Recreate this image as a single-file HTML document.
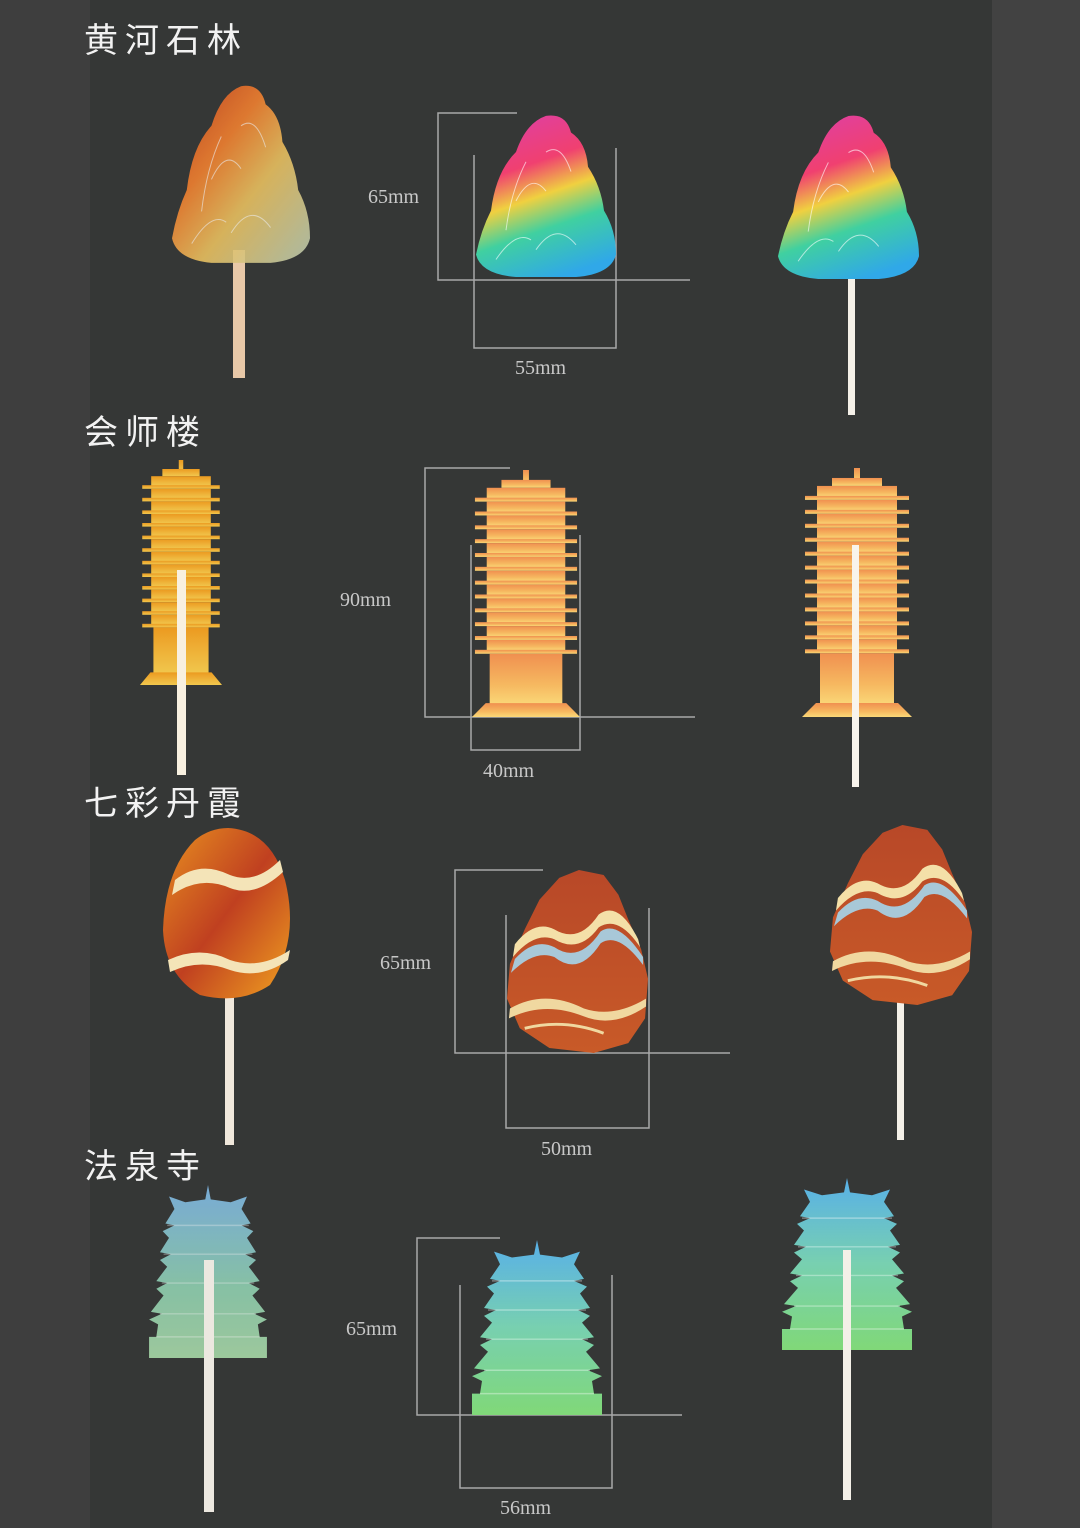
<!DOCTYPE html>
<html><head><meta charset="utf-8"><style>
html,body{margin:0;padding:0;background:#353736;}
svg{display:block}
.t{font-family:"Liberation Sans","Noto Sans CJK SC",sans-serif;font-size:34px;fill:#f2f2f2;letter-spacing:7px}
.d{font-family:"Liberation Serif",serif;font-size:20px;fill:#c8c8c8}
.ln{stroke:#a8a8a8;stroke-width:1.5;fill:none}
</style></head><body>
<svg width="1080" height="1528" viewBox="0 0 1080 1528" xmlns="http://www.w3.org/2000/svg">
<defs>
<linearGradient id="rb" x1="0.3" y1="0" x2="0.6" y2="1">
<stop offset="0" stop-color="#e040a0"/><stop offset="0.3" stop-color="#f04070"/><stop offset="0.5" stop-color="#f0d040"/><stop offset="0.7" stop-color="#40d0a0"/><stop offset="1" stop-color="#30a8e8"/></linearGradient>
<linearGradient id="am" x1="0" y1="0" x2="1" y2="1">
<stop offset="0" stop-color="#c84020"/><stop offset="0.35" stop-color="#f08030"/><stop offset="0.6" stop-color="#e8c060"/><stop offset="1" stop-color="#b8c8b0"/></linearGradient>
<linearGradient id="og" x1="0" y1="0" x2="0" y2="1">
<stop offset="0" stop-color="#f09050"/><stop offset="0.6" stop-color="#f6b860"/><stop offset="1" stop-color="#fad878"/></linearGradient>
<linearGradient id="og2" x1="0" y1="0" x2="0" y2="1">
<stop offset="0" stop-color="#f5a020"/><stop offset="1" stop-color="#fcd050"/></linearGradient>
<linearGradient id="bg" x1="0" y1="0" x2="0" y2="1">
<stop offset="0" stop-color="#58b0e8"/><stop offset="0.5" stop-color="#78d0b0"/><stop offset="1" stop-color="#80d878"/></linearGradient>
<linearGradient id="bg2" x1="0" y1="0" x2="0" y2="1">
<stop offset="0" stop-color="#80b8e8"/><stop offset="0.6" stop-color="#90d0b0"/><stop offset="1" stop-color="#a8d8a8"/></linearGradient>
<linearGradient id="rk" x1="0" y1="0" x2="0" y2="1">
<stop offset="0" stop-color="#b84828"/><stop offset="1" stop-color="#c85a28"/></linearGradient>
<linearGradient id="eg" x1="0" y1="0" x2="1" y2="1">
<stop offset="0" stop-color="#e89020"/><stop offset="0.5" stop-color="#c04020"/><stop offset="1" stop-color="#f0a020"/></linearGradient>
<symbol id="mtn" viewBox="0 0 140 170" preserveAspectRatio="none">
<path d="M0 145 Q5 120 15 100 Q20 60 40 40 Q50 10 70 3 Q90 0 95 20 Q110 30 112 55 Q125 75 128 100 Q140 120 140 145 Q135 165 100 168 H40 Q5 165 0 145 Z"/>
<path d="M20 150 Q40 120 55 130 M60 140 Q80 110 100 135 M40 90 Q55 60 70 80 M70 40 Q85 30 95 60 M30 120 Q35 80 50 50" stroke="#ffffff" stroke-opacity="0.6" fill="none" stroke-width="1"/>
</symbol>
<symbol id="tw" viewBox="0 0 110 250" preserveAspectRatio="none">
<rect x="52" y="0" width="6" height="14"/>
<rect x="30" y="10" width="50" height="8"/>
<rect x="15" y="18" width="80" height="11"/><rect x="3" y="28" width="104" height="4"/>
<rect x="15" y="32" width="80" height="11"/><rect x="3" y="42" width="104" height="4"/>
<rect x="15" y="46" width="80" height="11"/><rect x="3" y="56" width="104" height="4"/>
<rect x="15" y="60" width="80" height="11"/><rect x="3" y="70" width="104" height="4"/>
<rect x="15" y="74" width="80" height="11"/><rect x="3" y="84" width="104" height="4"/>
<rect x="15" y="88" width="80" height="11"/><rect x="3" y="98" width="104" height="4"/>
<rect x="15" y="102" width="80" height="11"/><rect x="3" y="112" width="104" height="4"/>
<rect x="15" y="116" width="80" height="11"/><rect x="3" y="126" width="104" height="4"/>
<rect x="15" y="130" width="80" height="11"/><rect x="3" y="140" width="104" height="4"/>
<rect x="15" y="144" width="80" height="11"/><rect x="3" y="154" width="104" height="4"/>
<rect x="15" y="158" width="80" height="11"/><rect x="3" y="168" width="104" height="4"/>
<rect x="15" y="172" width="80" height="11"/><rect x="3" y="182" width="104" height="4"/>
<rect x="18" y="186" width="74" height="52"/>
<polygon points="0,250 110,250 96,236 14,236"/>
</symbol>
<symbol id="pg" viewBox="0 0 150 180" preserveAspectRatio="none">
<path d="M75 0 L78 15 L100 18 L118 12 L112 25 L122 40 L112 42 L125 48 L118 55 L128 70 L116 72 L128 78 L120 85 L132 100 L120 102 L132 108 L124 115 L138 132 L126 134 L140 140 L130 145 L132 158 L140 158 L140 180 L10 180 L10 158 L18 158 L20 145 L10 140 L24 134 L12 132 L26 115 L18 108 L30 102 L18 100 L30 85 L22 78 L34 72 L22 70 L32 55 L25 48 L38 42 L28 40 L38 25 L32 12 L50 18 L72 15 Z"/>
<path d="M30 42 H120 M26 72 H124 M24 102 H126 M22 134 H128 M18 158 H132" stroke="#ffffff" stroke-opacity="0.35" stroke-width="1.5"/>
</symbol>
<symbol id="rock" viewBox="0 0 145 185" preserveAspectRatio="none">
<path d="M20 60 L35 30 L55 8 L75 0 L100 5 L115 25 L125 50 L138 80 L145 110 L142 150 L125 175 L90 185 L45 180 L15 160 L2 130 L5 95 Z" fill="url(#rk)"/>
<path d="M10 75 Q30 50 50 60 Q75 75 95 45 Q115 30 135 70 L137 78 Q115 45 95 58 Q75 85 50 70 Q30 62 8 88 Z" fill="#f4e0a8"/>
<path d="M10 90 Q30 68 50 78 Q75 95 97 62 Q115 50 140 88 L140 96 Q115 62 97 74 Q75 108 50 88 Q30 80 6 104 Z" fill="#a8c8d8"/>
<path d="M5 140 Q40 120 80 140 Q110 150 143 130 L143 138 Q110 160 80 148 Q40 132 4 150 Z" fill="#f0d8a0"/>
<path d="M20 160 Q60 150 100 165" stroke="#f0d8a0" stroke-width="3" fill="none"/>
</symbol>
</defs>
<rect x="0" y="0" width="90" height="1528" fill="#3e3e3e"/>
<rect x="992" y="0" width="88" height="1528" fill="#424242"/>

<!-- Row 1 -->
<text class="t" x="84" y="52">黄河石林</text>
<rect x="233" y="250" width="12" height="128" fill="#e8c8a8"/>
<use href="#mtn" x="172" y="83" width="138" height="182" fill="url(#am)" opacity="0.9"/>
<path class="ln" d="M517 113 H438 V280 H690 M474 155 V348 H616 V148"/>
<use href="#mtn" x="476" y="113" width="140" height="166" fill="url(#rb)"/>
<text class="d" x="368" y="203">65mm</text>
<text class="d" x="515" y="374">55mm</text>
<rect x="848" y="278" width="7" height="137" fill="#f4f0e8"/>
<use href="#mtn" x="778" y="113" width="141" height="168" fill="url(#rb)"/>

<!-- Row 2 -->
<text class="t" x="84" y="444">会师楼</text>
<use href="#tw" x="140" y="460" width="82" height="225" fill="url(#og2)" opacity="0.95"/>
<rect x="177" y="570" width="9" height="205" fill="#f8f0e0"/>
<path class="ln" d="M510 468 H425 V717 H695 M471 545 V750 H580 V535"/>
<use href="#tw" x="472" y="470" width="108" height="247" fill="url(#og)"/>
<text class="d" x="340" y="606">90mm</text>
<text class="d" x="483" y="777">40mm</text>
<use href="#tw" x="802" y="468" width="110" height="249" fill="url(#og)"/>
<rect x="852" y="545" width="7" height="242" fill="#f8f4ec"/>

<!-- Row 3 -->
<text class="t" x="84" y="815">七彩丹霞</text>
<rect x="225" y="990" width="9" height="155" fill="#f0e8dc"/>
<path d="M228 828 Q270 830 285 880 Q300 940 270 985 Q240 1005 200 995 Q165 975 163 930 Q165 870 195 840 Q210 828 228 828 Z" fill="url(#eg)"/>
<path d="M175 880 Q200 860 230 875 Q255 885 280 860 L283 872 Q255 898 230 888 Q200 875 172 895 Z" fill="#f4e4b8"/>
<path d="M168 960 Q200 945 230 960 Q260 970 290 950 L288 960 Q260 980 230 970 Q200 958 170 972 Z" fill="#f4e4b8"/>
<path class="ln" d="M543 870 H455 V1053 H730 M506 915 V1128 H649 V908"/>
<use href="#rock" x="505" y="870" width="143" height="183"/>
<text class="d" x="380" y="969">65mm</text>
<text class="d" x="541" y="1155">50mm</text>
<rect x="897" y="1000" width="7" height="140" fill="#f4f0e8"/>
<use href="#rock" x="828" y="825" width="144" height="180"/>

<!-- Row 4 -->
<text class="t" x="84" y="1178">法泉寺</text>
<use href="#pg" x="140" y="1185" width="136" height="173" fill="url(#bg2)" opacity="0.9"/>
<rect x="204" y="1260" width="10" height="252" fill="#ece8e0"/>
<path class="ln" d="M500 1238 H417 V1415 H682 M460 1285 V1488 H612 V1275"/>
<use href="#pg" x="462" y="1240" width="150" height="175" fill="url(#bg)"/>
<text class="d" x="346" y="1335">65mm</text>
<text class="d" x="500" y="1514">56mm</text>
<use href="#pg" x="772" y="1178" width="150" height="172" fill="url(#bg)"/>
<rect x="843" y="1250" width="8" height="250" fill="#f4f0e8"/>
</svg>
</body></html>
